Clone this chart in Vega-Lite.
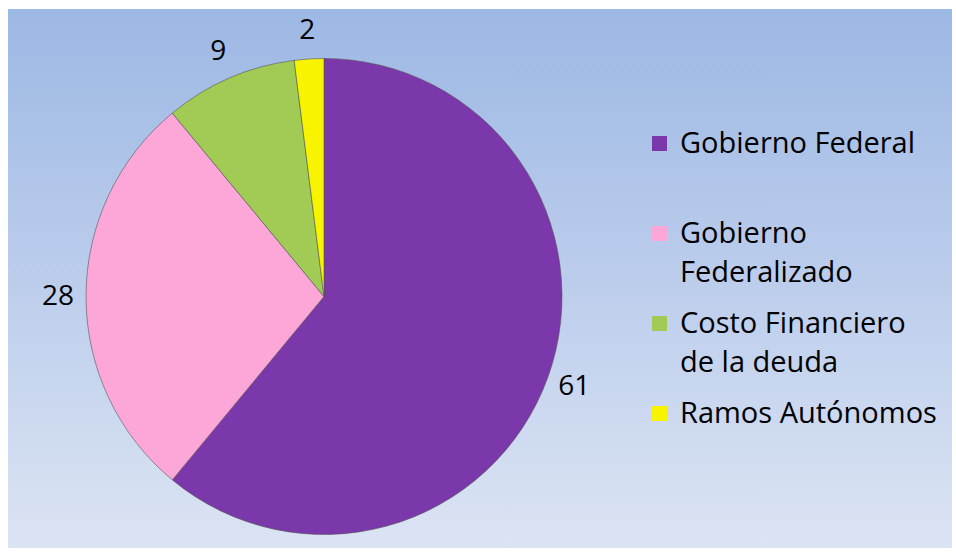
{
  "$schema": "https://vega.github.io/schema/vega-lite/v6.json",
  "width": 956,
  "height": 552,
  "autosize": {"type": "fit", "contains": "padding"},
  "padding": {"left": 8, "top": 9, "right": 4, "bottom": 4},
  "background": "white",
  "config": {"view": {"stroke": null}},
  "data": {
    "values": [
      {"categoria": "Gobierno Federal", "valor": 61},
      {"categoria": "Gobierno Federalizado", "valor": 28},
      {"categoria": "Costo Financiero de la deuda", "valor": 9},
      {"categoria": "Ramos Autónomos", "valor": 2}
    ]
  },
  "layer": [
    {
      "data": {"values": [{}]},
      "mark": {
        "type": "rect",
        "color": {"gradient": "linear", "x1": 0, "y1": 0, "x2": 0, "y2": 1,
          "stops": [{"offset": 0, "color": "#9cb8e4"}, {"offset": 0.5, "color": "#bccdec"}, {"offset": 1, "color": "#dbe4f3"}]}
      },
      "encoding": {}
    },
    {
      "mark": {"type": "arc", "outerRadius": 238, "xOffset": -156, "yOffset": 18, "stroke": "#555555", "strokeWidth": 0.6},
      "encoding": {
        "theta": {"field": "valor", "type": "quantitative", "stack": true},
        "order": {"field": "valor", "type": "quantitative", "sort": "descending"},
        "color": {
          "field": "categoria",
          "type": "nominal",
          "scale": {
            "domain": ["Gobierno Federal", "Gobierno Federalizado", "Costo Financiero de la deuda", "Ramos Autónomos"],
            "range": ["#7b38aa", "#fda6d8", "#a2cb55", "#f8f400"]
          },
          "legend": {
            "title": null,
            "orient": "none",
            "legendX": 637,
            "legendY": 120,
            "symbolType": "square",
            "symbolSize": 225,
            "symbolStrokeWidth": 0,
            "labelFont": "Open Sans",
            "labelFontSize": 29,
            "labelColor": "black",
            "labelOffset": 6,
            "labelLimit": 400,
            "rowPadding": 21,
            "labelExpr": "datum.label == 'Gobierno Federal' ? ['Gobierno Federal', ''] : datum.label == 'Gobierno Federalizado' ? ['Gobierno', 'Federalizado'] : datum.label == 'Costo Financiero de la deuda' ? ['Costo Financiero', 'de la deuda'] : datum.label",
            "encoding": {"labels": {"lineHeight": {"value": 39}}}
          }
        }
      }
    },
    {
      "mark": {"type": "text", "radius": 266, "xOffset": -156, "yOffset": 18, "font": "Open Sans", "fontSize": 28, "color": "black"},
      "encoding": {
        "theta": {"field": "valor", "type": "quantitative", "stack": true},
        "order": {"field": "valor", "type": "quantitative", "sort": "descending"},
        "text": {"field": "valor", "type": "quantitative"}
      }
    }
  ]
}
